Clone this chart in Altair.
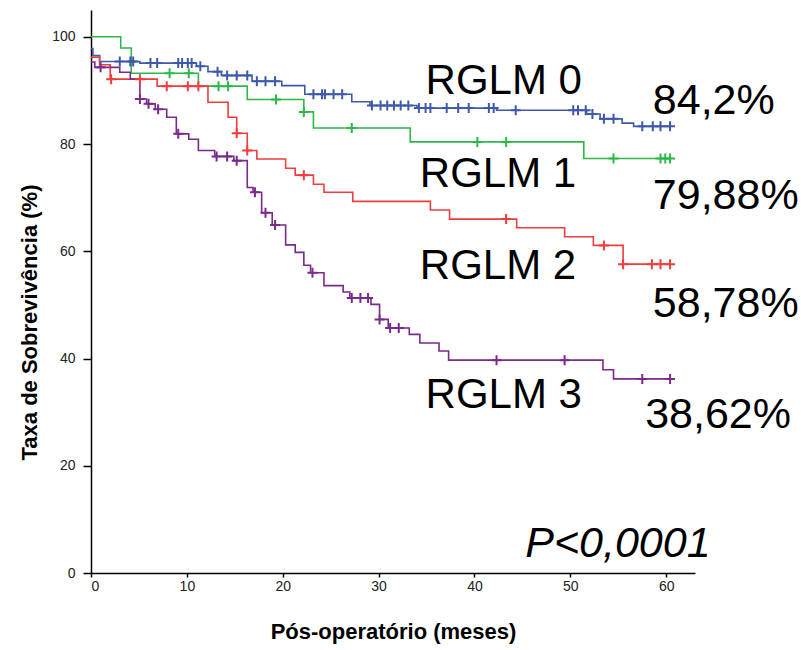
import altair as alt
import pandas as pd

# Kaplan-Meier survival by RGLM group: step times (months) and survival (%) after each step
groups = ["RGLM 0", "RGLM 1", "RGLM 2", "RGLM 3"]
colors = ["#3e58ac", "#2eb848", "#f03c3c", "#7a2a8a"]

t_rglm0 = [0, 0.2, 0.9, 5.1, 11.0, 12.2, 13.6, 16.8, 19.9, 22.3, 27.2, 29.1, 34.0, 42.3, 51.7, 53.1, 55.4, 56.6, 60.5]
s_rglm0 = [97.8, 96.5, 95.4, 95.1, 94.5, 93.5, 92.8, 91.7, 90.9, 89.3, 87.9, 87.2, 86.7, 86.3, 85.6, 84.7, 83.9, 83.3, 83.3]
c_rglm0 = [3.0, 4.1, 4.4, 6.2, 6.9, 9.1, 9.5, 10.1, 10.5, 11.4, 13.2, 14.2, 15.2, 16.3, 17.3, 18.2, 19.2,
           23.2, 24.1, 24.4, 25.3, 26.2, 29.3, 30.2, 30.9, 31.6, 32.3, 33.1, 34.2, 34.9, 35.4,
           37.1, 38.3, 39.4, 41.5, 42.0, 44.3, 50.3, 50.8, 51.6, 52.3, 53.5, 54.5, 57.5, 58.6, 59.4, 60.4]

t_rglm1 = [0, 3.1, 4.2, 11.2, 16.3, 22.2, 23.2, 33.3, 51.4, 60.4]
s_rglm1 = [100.0, 97.9, 93.2, 90.8, 88.3, 86.0, 83.0, 80.4, 77.3, 77.3]
c_rglm1 = [8.2, 10.2, 13.3, 14.3, 19.3, 22.2, 27.2, 40.3, 43.3, 54.5, 59.4, 59.9, 60.4]

t_rglm2 = [0, 0.9, 2.0, 6.9, 12.2, 14.3, 15.2, 16.3, 17.3, 20.3, 21.3, 23.2, 24.3, 27.3, 35.4, 37.4, 44.4, 49.4, 52.4, 55.5, 60.4]
s_rglm2 = [96.2, 94.8, 92.1, 90.8, 87.8, 85.0, 82.0, 78.8, 77.2, 75.5, 74.2, 72.5, 71.0, 69.3, 67.7, 66.0, 64.4, 62.7, 61.1, 57.6, 57.6]
c_rglm2 = [2.1, 5.1, 7.9, 10.1, 11.2, 15.2, 16.3, 22.2, 43.3, 53.5, 55.5, 58.5, 59.4, 60.4]

t_rglm3 = [0, 0.4, 3.0, 4.1, 5.1, 5.8, 6.7, 7.9, 8.9, 10.2, 11.2, 12.9, 14.9, 16.3, 16.9, 17.8, 18.9, 20.3,
           21.3, 22.2, 22.9, 24.3, 26.3, 27.0, 29.2, 30.1, 31.0, 33.2, 34.3, 36.3, 37.3, 53.4, 54.5, 60.4]
s_rglm3 = [95.3, 94.3, 93.4, 92.1, 88.4, 87.5, 86.5, 85.0, 81.9, 80.9, 78.8, 77.7, 76.9, 71.9, 71.0, 67.2, 64.9, 61.2,
           59.8, 57.4, 56.0, 53.6, 52.4, 51.3, 50.1, 47.3, 45.7, 44.5, 42.9, 41.4, 39.7, 37.9, 36.2, 36.2]
c_rglm3 = [1.0, 5.1, 6.0, 7.0, 9.1, 13.1, 14.2, 15.2, 17.1, 18.2, 19.2, 23.1, 27.2, 28.1, 28.9, 30.1, 31.2, 32.1,
           42.3, 49.4, 57.5, 60.4]

curve_times = [t_rglm0, t_rglm1, t_rglm2, t_rglm3]
curve_surv = [s_rglm0, s_rglm1, s_rglm2, s_rglm3]
censor_times = [c_rglm0, c_rglm1, c_rglm2, c_rglm3]

# Annotations: group names and 5-year survival
name_text = ["RGLM 0", "RGLM 1", "RGLM 2", "RGLM 3"]
name_x = [34.9, 34.3, 34.3, 34.9]
name_y = [89.3, 72.0, 54.8, 30.8]
pct_text = ["84,2%", "79,88%", "58,78%", "38,62%"]
pct_x = [58.6, 58.6, 58.6, 57.8]
pct_y = [85.6, 67.9, 47.7, 27.1]
p_text = "P<0,0001"
p_x, p_y = 45.3, 3.0


def step_value(times, surv, t):
    val = surv[0]
    for ti, si in zip(times, surv):
        if ti <= t:
            val = si
    return val


rows, marks = [], []
for g, ts, ss, cs in zip(groups, curve_times, curve_surv, censor_times):
    for i, (t, s) in enumerate(zip(ts, ss)):
        rows.append({"grupo": g, "t": t, "s": s, "ordem": i})
    for c in cs:
        marks.append({"grupo": g, "t": c, "s": step_value(ts, ss, c)})

curves = pd.DataFrame(rows)
censored = pd.DataFrame(marks)
names = pd.DataFrame({"x": name_x, "y": name_y, "text": name_text})
pcts = pd.DataFrame({"x": pct_x, "y": pct_y, "text": pct_text})
pval = pd.DataFrame({"x": [p_x], "y": [p_y], "text": [p_text]})

FONT = "Liberation Sans"
xscale = alt.Scale(domain=[0, 63], nice=False, zero=False)
yscale = alt.Scale(domain=[0, 105], nice=False)
color = alt.Color("grupo:N", scale=alt.Scale(domain=groups, range=colors), legend=None)

lines = alt.Chart(curves).mark_line(interpolate="step-after", strokeWidth=1.6).encode(
    x=alt.X("t:Q", scale=xscale, title="Pós-operatório (meses)",
            axis=alt.Axis(values=[0, 10, 20, 30, 40, 50, 60], format="d",
                          tickSize=4, labelPadding=2, titlePadding=28)),
    y=alt.Y("s:Q", scale=yscale, title="Taxa de Sobrevivência (%)",
            axis=alt.Axis(values=[0, 20, 40, 60, 80, 100], format="d",
                          tickSize=8, labelPadding=8, titlePadding=10, titleY=312)),
    color=color,
    order="ordem:Q",
    detail="grupo:N",
)

ticks = alt.Chart(censored).mark_point(
    shape="M-1,0L1,0M0,-1L0,1", size=100, strokeWidth=2, filled=False, opacity=1
).encode(x=alt.X("t:Q", scale=xscale), y=alt.Y("s:Q", scale=yscale), color=color)


def text_layer(df, size, style="normal"):
    return alt.Chart(df).mark_text(
        align="left", baseline="alphabetic", font=FONT, fontSize=size, fontStyle=style, color="black"
    ).encode(x=alt.X("x:Q", scale=xscale), y=alt.Y("y:Q", scale=yscale), text="text:N")


chart = alt.layer(
    lines, ticks, text_layer(names, 42), text_layer(pcts, 43), text_layer(pval, 43, "italic")
).properties(
    width=604, height=563,
    autosize=alt.AutoSizeParams(type="none"),
    padding={"left": 91, "top": 10, "right": 106, "bottom": 77},
    background="white",
).configure_view(stroke=None).configure_axis(
    grid=False, domainColor="black", domainWidth=1.5, tickColor="black", tickWidth=1.5,
    labelFont=FONT, labelFontSize=14, labelColor="#222222",
    titleFont=FONT, titleFontSize=22, titleFontWeight="bold", titleColor="black",
)

chart.save("out.html", embed_options={"renderer": "svg", "actions": False})
